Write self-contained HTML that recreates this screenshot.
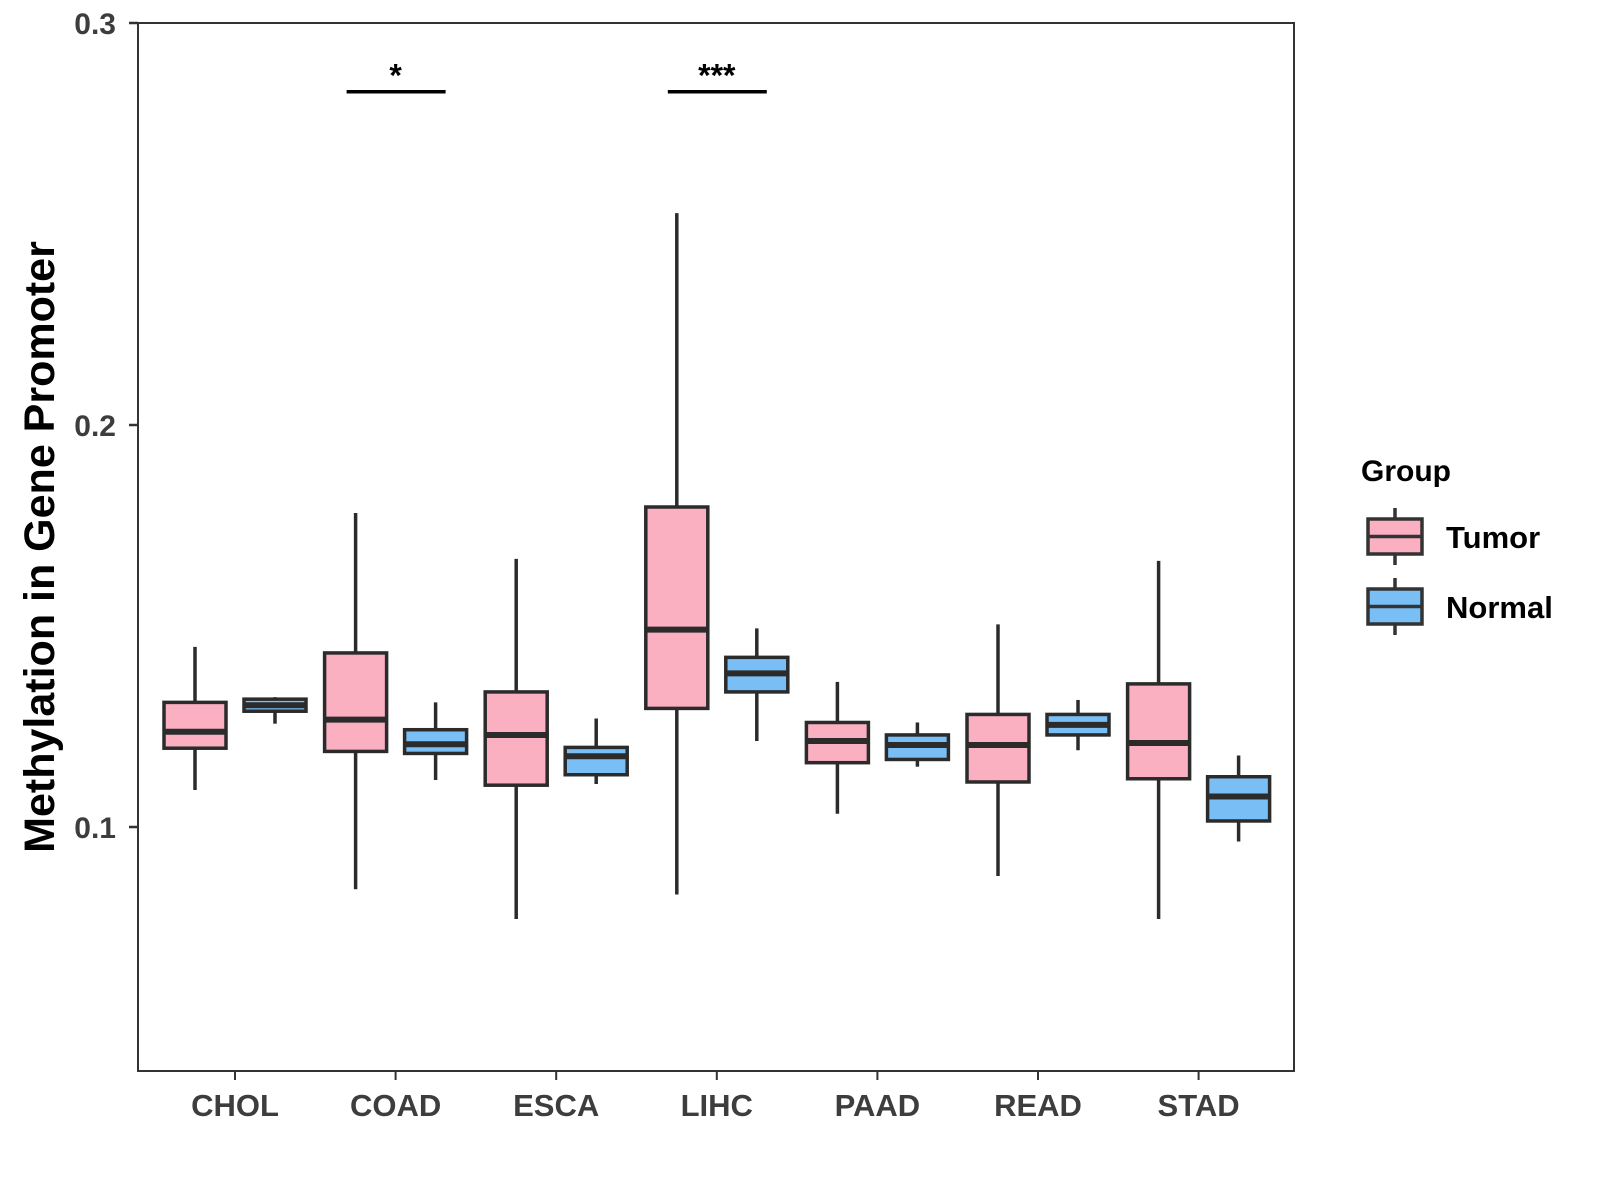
<!DOCTYPE html>
<html><head><meta charset="utf-8"><style>
html,body{margin:0;padding:0;background:#fff}
svg{display:block;font-family:"Liberation Sans",Arial,sans-serif;font-weight:bold}
</style></head><body>
<svg id="chart" width="1600" height="1200" viewBox="0 0 1600 1200">
<rect x="138" y="23" width="1156" height="1048" fill="#fff" stroke="#333" stroke-width="2"/>
<g id="marks"></g>
<g id="axes"></g>
<text transform="translate(54,547) rotate(-90)" text-anchor="middle" font-size="43" fill="#000">Methylation in Gene Promoter</text>
<g transform="translate(-7,-3)">
<text x="1368" y="484" font-size="30" fill="#000">Group</text>
<g>
<line x1="1402" y1="511" x2="1402" y2="568" stroke="#333" stroke-width="3.5"/>
<rect x="1375" y="522" width="54" height="35" fill="#fbb0c2" stroke="#333" stroke-width="3.5"/>
<line x1="1375" y1="539.5" x2="1429" y2="539.5" stroke="#333" stroke-width="3.5"/>
<text x="1453" y="551" font-size="31" fill="#000">Tumor</text></g>
<g>
<line x1="1402" y1="581" x2="1402" y2="638" stroke="#333" stroke-width="3.5"/>
<rect x="1375" y="592" width="54" height="35" fill="#79bff5" stroke="#333" stroke-width="3.5"/>
<line x1="1375" y1="609.5" x2="1429" y2="609.5" stroke="#333" stroke-width="3.5"/>
<text x="1453" y="621" font-size="31" fill="#000">Normal</text></g>
</g>
</svg>
<script>
const categories=["CHOL","COAD","ESCA","LIHC","PAAD","READ","STAD"];
// [low, q1, median, q3, high]
const tumorStats=[[0.1092,0.1196,0.1237,0.131,0.1448],[0.0845,0.1188,0.1267,0.1433,0.1781],[0.0771,0.1104,0.1229,0.1336,0.1667],[0.0832,0.1295,0.1491,0.1796,0.2527],[0.1033,0.116,0.1214,0.126,0.1361],[0.0878,0.1112,0.1204,0.128,0.1504],[0.0771,0.112,0.1209,0.1356,0.1662]];
const normalStats=[[0.1257,0.1288,0.1303,0.1318,0.1323],[0.1117,0.1183,0.1206,0.1242,0.131],[0.1107,0.113,0.1176,0.1198,0.127],[0.1214,0.1336,0.1382,0.1422,0.1494],[0.115,0.1168,0.1204,0.1229,0.126],[0.1191,0.1229,0.1254,0.128,0.1316],[0.0964,0.1015,0.1076,0.1125,0.1178]];
const yTicks=[0.1,0.2,0.3];
const yTickLabels=["0.1","0.2","0.3"];
const sigCategories=["COAD","LIHC"];
const sigLabels=["*","***"];
const sigLevel=0.2829;

const NS="http://www.w3.org/2000/svg";
const yScale=v=>425-(v-0.2)*4020;
const xScale=i=>235+i*160.6;
const marks=document.getElementById('marks'),axes=document.getElementById('axes');
function mk(tag,attrs,parent){const e=document.createElementNS(NS,tag);for(const k in attrs)e.setAttribute(k,attrs[k]);parent.appendChild(e);return e;}
function box(s,cx,fill,name){
  const g=mk('g',{},marks);
  
  
  const w=62;
  mk('line',{x1:cx,x2:cx,y1:yScale(s[4]),y2:yScale(s[0]),stroke:'#2b2b2b','stroke-width':3.5},g);
  mk('rect',{x:cx-w/2,y:yScale(s[3]),width:w,height:yScale(s[1])-yScale(s[3]),fill:fill,stroke:'#2b2b2b','stroke-width':3.5},g);
  mk('line',{x1:cx-w/2,x2:cx+w/2,y1:yScale(s[2]),y2:yScale(s[2]),stroke:'#2b2b2b','stroke-width':6},g);
}
categories.forEach((c,i)=>{
  box(tumorStats[i],xScale(i)-40,'#fbb0c2','box-tumor-'+c.toLowerCase());
  box(normalStats[i],xScale(i)+40,'#79bff5','box-normal-'+c.toLowerCase());
  const t=mk('line',{x1:xScale(i),x2:xScale(i),y1:1071,y2:1080,stroke:'#333','stroke-width':2},axes);
  
  
  const l=mk('text',{x:xScale(i),y:1116,'text-anchor':'middle','font-size':31,fill:'#3d3d3d'},axes);
  l.textContent=c;
  
  
});
yTicks.forEach((v,i)=>{
  const t=mk('line',{x1:129,x2:138,y1:yScale(v),y2:yScale(v),stroke:'#333','stroke-width':2.5},axes);
  
  
  const l=mk('text',{x:116,y:yScale(v)+11,'text-anchor':'end','font-size':30,fill:'#3d3d3d'},axes);
  l.textContent=yTickLabels[i];
  
  
});
sigCategories.forEach((c,j)=>{
  const i=categories.indexOf(c);
  const g=mk('g',{},marks);
  
  
  mk('line',{x1:xScale(i)-49,x2:xScale(i)+50,y1:yScale(sigLevel),y2:yScale(sigLevel),stroke:'#000','stroke-width':3.5},g);
  const t=mk('text',{x:xScale(i),y:yScale(sigLevel)-5,'text-anchor':'middle','font-size':32,fill:'#000'},g);
  t.textContent=sigLabels[j];
});
</script>
</body></html>
